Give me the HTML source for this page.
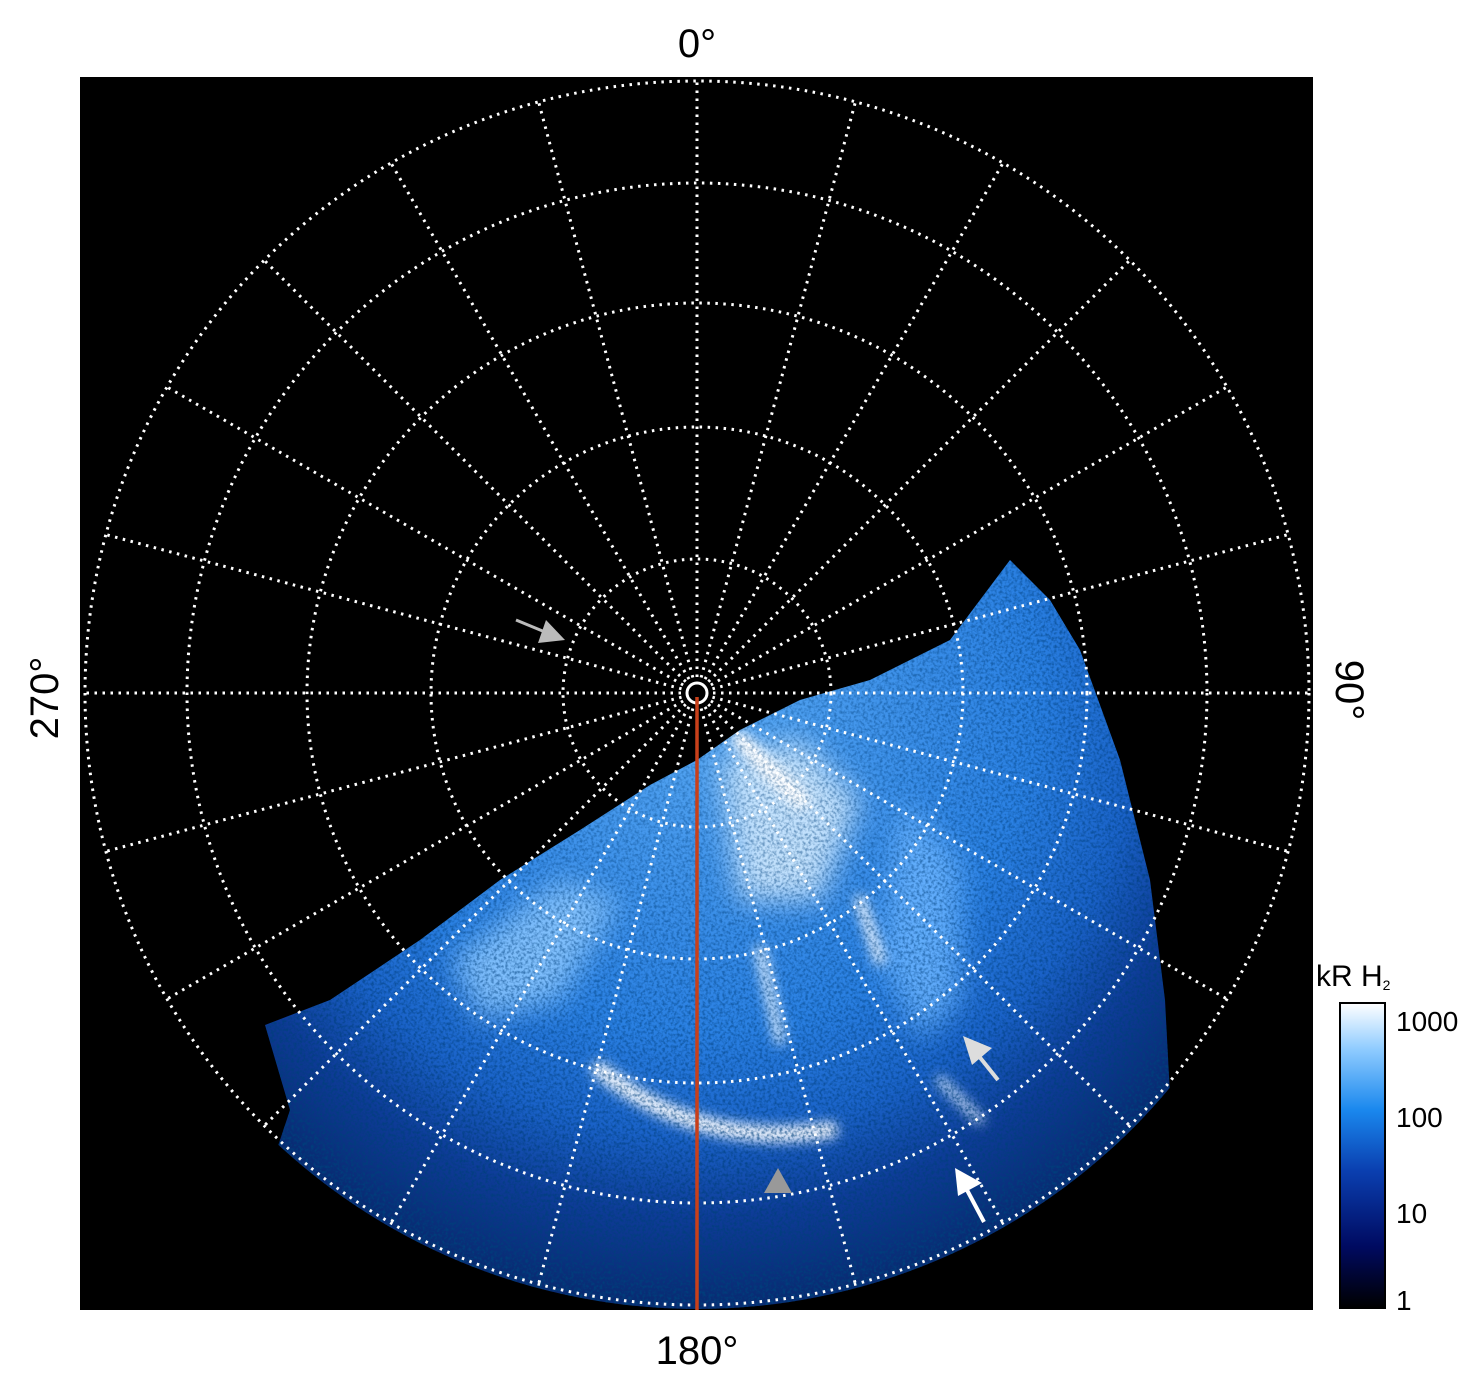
<!DOCTYPE html>
<html><head><meta charset="utf-8"><style>
html,body{margin:0;padding:0;background:#fff;width:1481px;height:1386px;overflow:hidden}
svg{display:block}
text{font-family:"Liberation Sans",sans-serif;fill:#000}
</style></head><body>
<svg width="1481" height="1386" viewBox="0 0 1481 1386" xmlns="http://www.w3.org/2000/svg">
<defs>
<clipPath id="aurclip"><path d="M697,760 L740,730 L800,700 L870,680 L950,640 L1010,560 L1050,600 L1080,650 L1120,760 L1150,880 L1165,1000 L1170,1095 L1320,1320 L220,1320 L290,1110 L265,1025 L330,1000 L420,940 L500,880 L580,830 L650,785 Z"/></clipPath>
<clipPath id="disk"><circle cx="697" cy="693" r="616"/></clipPath>
<filter id="noise" x="0" y="0" width="100%" height="100%">
<feTurbulence type="fractalNoise" baseFrequency="0.35" numOctaves="2" seed="3" result="n"/>
<feColorMatrix in="n" type="matrix" values="0 0 0 0 0  0 0 0 0 0.05  0 0 0 0 0.2  0 0 0 -2.6 1.55"/>
</filter>
<filter id="blur6"><feGaussianBlur stdDeviation="6"/></filter>
<filter id="blur12"><feGaussianBlur stdDeviation="14"/></filter>
<linearGradient id="cb" x1="0" y1="1" x2="0" y2="0">
<stop offset="0" stop-color="#000"/>
<stop offset="0.2" stop-color="#000a60"/>
<stop offset="0.45" stop-color="#0a3fb0"/>
<stop offset="0.65" stop-color="#1a88ee"/>
<stop offset="0.85" stop-color="#90ccff"/>
<stop offset="1" stop-color="#ffffff"/>
</linearGradient>
<radialGradient id="aur" cx="697" cy="693" r="616" gradientUnits="userSpaceOnUse">
<stop offset="0" stop-color="#5aaaf4"/>
<stop offset="0.55" stop-color="#2a80e2"/>
<stop offset="0.72" stop-color="#1a62c8"/>
<stop offset="0.85" stop-color="#0e3c98"/>
<stop offset="1" stop-color="#082a70"/>
</radialGradient>
<radialGradient id="nz" cx="697" cy="693" r="616" gradientUnits="userSpaceOnUse">
<stop offset="0" stop-opacity="0.35" stop-color="#fff"/>
<stop offset="0.7" stop-opacity="0.6" stop-color="#fff"/>
<stop offset="1" stop-opacity="1" stop-color="#fff"/>
</radialGradient>
<mask id="nzm"><rect x="80" y="77" width="1233" height="1233" fill="url(#nz)"/></mask>
</defs>
<rect x="80" y="77" width="1233" height="1233" fill="#000"/>
<g clip-path="url(#disk)">
<g clip-path="url(#aurclip)">
<rect x="80" y="540" width="1233" height="780" fill="url(#aur)"/>
<g filter="url(#blur12)" opacity="0.85">
<path d="M720,760 L800,740 L860,800 L820,900 L740,900 Z" fill="#d8eeff"/>
<path d="M450,960 L560,880 L620,900 L560,1000 L480,1020 Z" fill="#8cc8ff"/>
<path d="M900,800 L960,860 L960,1000 L920,1040 L880,960 Z" fill="#6ab4ff"/>
</g>
<g filter="url(#blur6)" fill="none" stroke-linecap="round">
<path d="M600,1070 Q700,1150 830,1130" stroke="#fff" stroke-width="16"/>
<path d="M740,740 L800,800" stroke="#fff" stroke-width="18"/>
<path d="M860,900 L880,960" stroke="#fff" stroke-width="10"/>
<path d="M760,950 L780,1040" stroke="#e8f4ff" stroke-width="10"/>
<path d="M940,1080 L980,1120" stroke="#e8f4ff" stroke-width="8"/>
</g>
<g mask="url(#nzm)"><rect x="80" y="540" width="1233" height="780" filter="url(#noise)"/></g>
</g>
</g>
<g fill="none" stroke="#fff" stroke-width="3" stroke-dasharray="2.5 5.5">
<circle cx="697" cy="693" r="612"/>
<circle cx="697" cy="693" r="510"/>
<circle cx="697" cy="693" r="390"/>
<circle cx="697" cy="693" r="266"/>
<circle cx="697" cy="693" r="134"/>
</g>
<g stroke="#fff" stroke-width="3" stroke-dasharray="2.5 5.5">
<line x1="697" y1="693" x2="697" y2="81"/>
<line x1="697" y1="693" x2="855.4" y2="101.9"/>
<line x1="697" y1="693" x2="1003" y2="163"/>
<line x1="697" y1="693" x2="1129.8" y2="260.2"/>
<line x1="697" y1="693" x2="1227" y2="387"/>
<line x1="697" y1="693" x2="1288.1" y2="534.6"/>
<line x1="697" y1="693" x2="1309" y2="693"/>
<line x1="697" y1="693" x2="1288.1" y2="851.4"/>
<line x1="697" y1="693" x2="1227" y2="999"/>
<line x1="697" y1="693" x2="1129.8" y2="1125.8"/>
<line x1="697" y1="693" x2="1003" y2="1223"/>
<line x1="697" y1="693" x2="855.4" y2="1284.1"/>
<line x1="697" y1="693" x2="697" y2="1305"/>
<line x1="697" y1="693" x2="538.6" y2="1284.1"/>
<line x1="697" y1="693" x2="391" y2="1223"/>
<line x1="697" y1="693" x2="264.2" y2="1125.8"/>
<line x1="697" y1="693" x2="167" y2="999"/>
<line x1="697" y1="693" x2="105.9" y2="851.4"/>
<line x1="697" y1="693" x2="85" y2="693"/>
<line x1="697" y1="693" x2="105.9" y2="534.6"/>
<line x1="697" y1="693" x2="167" y2="387"/>
<line x1="697" y1="693" x2="264.2" y2="260.2"/>
<line x1="697" y1="693" x2="391" y2="163"/>
<line x1="697" y1="693" x2="538.6" y2="101.9"/>
</g>
<circle cx="697" cy="693" r="14" fill="#000"/>
<circle cx="697" cy="693" r="10" fill="none" stroke="#fff" stroke-width="3"/>
<line x1="697" y1="697" x2="697" y2="1310" stroke="#c8401a" stroke-width="3.5"/>
<line x1="516" y1="620" x2="545" y2="632" stroke="#bbb" stroke-width="3"/>
<polygon points="565,640 538,643 546,620" fill="#bbb"/>
<line x1="998" y1="1080" x2="978" y2="1055" stroke="#ddd" stroke-width="4"/>
<polygon points="963,1036 992,1048 972,1065" fill="#ddd"/>
<line x1="984" y1="1222" x2="967" y2="1190" stroke="#fff" stroke-width="4"/>
<polygon points="955,1168 982,1183 958,1196" fill="#fff"/>
<polygon points="778,1168 792,1193 764,1193" fill="#999"/>
<text x="697" y="57" font-size="40" text-anchor="middle">0°</text>
<text x="697" y="1364" font-size="40" text-anchor="middle">180°</text>
<text transform="translate(58,698) rotate(-90)" font-size="40" text-anchor="middle">270°</text>
<text transform="translate(1336,690) rotate(90)" font-size="40" text-anchor="middle">90°</text>
<rect x="1340" y="1003" width="45" height="305" fill="url(#cb)" stroke="#000" stroke-width="2"/>
<text x="1316" y="986" font-size="30">kR H<tspan font-size="14" dy="4">2</tspan></text>
<text x="1396" y="1031" font-size="28">1000</text>
<text x="1396" y="1127" font-size="28">100</text>
<text x="1396" y="1223" font-size="28">10</text>
<text x="1396" y="1310" font-size="28">1</text>
</svg>
</body></html>
